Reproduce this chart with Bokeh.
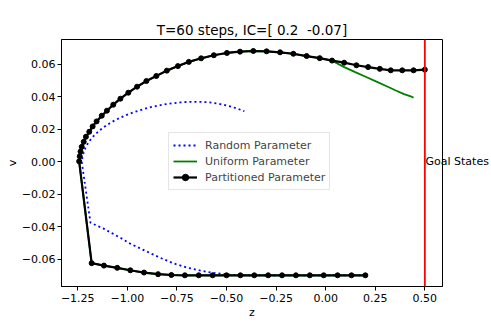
from bokeh.plotting import figure
from bokeh.models import Span, FixedTicker, Range1d, LinearAxis
from bokeh.embed import file_html
from bokeh.resources import INLINE

# ---------------- data ----------------
title_text = "T=60 steps, IC=[ 0.2 \u00a0-0.07]"

z_partitioned = [0.200, 0.130, 0.060, -0.010, -0.080, -0.150, -0.220, -0.290, -0.360, -0.430,
                 -0.500, -0.570, -0.640, -0.710, -0.778, -0.845, -0.916, -0.985, -1.051, -1.118,
                 -1.180,
                 -1.243, -1.240, -1.236, -1.230, -1.220, -1.209, -1.192, -1.175, -1.155, -1.129,
                 -1.103, -1.071, -1.035, -0.995, -0.951, -0.904, -0.854, -0.801, -0.745,
                 -0.690, -0.628, -0.564, -0.498, -0.432, -0.365, -0.298, -0.230, -0.163, -0.096,
                 -0.030, 0.032, 0.093, 0.155, 0.214, 0.273, 0.328, 0.386, 0.443, 0.500]
v_partitioned = [-0.0700, -0.0700, -0.0700, -0.0700, -0.0700, -0.0700, -0.0700, -0.0700, -0.0700, -0.0700,
                 -0.0700, -0.0700, -0.0700, -0.0700, -0.0698, -0.0693, -0.0683, -0.0669, -0.0654, -0.0640,
                 -0.0625,
                 0.0003, 0.0034, 0.0063, 0.0092, 0.0123, 0.0154, 0.0185, 0.0218, 0.0249, 0.0284,
                 0.0315, 0.0352, 0.0389, 0.0426, 0.0463, 0.0498, 0.0529, 0.0562, 0.0590,
                 0.0616, 0.0638, 0.0657, 0.0671, 0.0679, 0.0683, 0.0681, 0.0675, 0.0666, 0.0652,
                 0.0639, 0.0624, 0.0611, 0.0595, 0.0584, 0.0573, 0.0564, 0.0564, 0.0564, 0.0568]

# uniform parameter: identical to the partitioned run until z ~ 0.03, then its own tail
z_uniform_tail = [0.091, 0.149, 0.204, 0.256, 0.305, 0.351, 0.395, 0.436, 0.443]
v_uniform_tail = [0.0585, 0.0553, 0.0523, 0.0494, 0.0467, 0.0441, 0.0417, 0.0400, 0.0395]
z_uniform = z_partitioned[:52] + z_uniform_tail
v_uniform = v_partitioned[:52] + v_uniform_tail

z_random = [0.200, 0.130, 0.060, -0.010, -0.080, -0.150, -0.220, -0.290, -0.360, -0.430,
            -0.499, -0.568, -0.635, -0.700, -0.763, -0.823, -0.880, -0.934, -0.985, -1.033,
            -1.078, -1.120, -1.160, -1.186,
            -1.230, -1.226, -1.220, -1.212, -1.201, -1.188, -1.172, -1.154, -1.134, -1.112,
            -1.088, -1.062, -1.035, -1.006, -0.976, -0.944, -0.911, -0.877, -0.842, -0.806,
            -0.770, -0.733, -0.696, -0.659, -0.622, -0.585, -0.548, -0.512, -0.477, -0.443,
            -0.410]
v_random = [-0.0700, -0.0700, -0.0700, -0.0700, -0.0700, -0.0700, -0.0700, -0.0700, -0.0700, -0.0700,
            -0.0695, -0.0685, -0.0670, -0.0652, -0.0628, -0.0598, -0.0566, -0.0535, -0.0505, -0.0470,
            -0.0440, -0.0412, -0.0390, -0.0375,
            0.0000, 0.0030, 0.0057, 0.0084, 0.0109, 0.0133, 0.0156, 0.0178, 0.0199, 0.0219,
            0.0238, 0.0256, 0.0272, 0.0288, 0.0302, 0.0315, 0.0327, 0.0338, 0.0347, 0.0355,
            0.0361, 0.0366, 0.0369, 0.0370, 0.0369, 0.0366, 0.0360, 0.0351, 0.0340, 0.0327,
            0.0312]

goal_z = 0.5
goal_v = 0.0
goal_label = "Goal States"

x_ticks = [-1.25, -1.0, -0.75, -0.5, -0.25, 0.0, 0.25, 0.5]
x_tick_labels = ["\u22121.25", "\u22121.00", "\u22120.75", "\u22120.50", "\u22120.25", "0.00", "0.25", "0.50"]
y_ticks = [-0.06, -0.04, -0.02, 0.0, 0.02, 0.04, 0.06]
y_tick_labels = ["\u22120.06", "\u22120.04", "\u22120.02", "0.00", "0.02", "0.04", "0.06"]

# ---------------- figure ----------------
FONT = "DejaVu Sans"
p = figure(width=491, height=327, output_backend="svg", toolbar_location=None,
           x_range=Range1d(-1.332, 0.589), y_range=Range1d(-0.0769, 0.0754),
           min_border_left=61, min_border_right=49, min_border_top=39, min_border_bottom=41,
           title=title_text)
p.background_fill_color = "white"
p.border_fill_color = "white"
p.xgrid.visible = False
p.ygrid.visible = False
p.outline_line_color = "black"
p.outline_line_width = 1
p.outline_line_alpha = 1

p.title.text_font = FONT
p.title.text_font_size = "13.5px"
p.title.text_font_style = "normal"
p.title.text_color = "black"
p.title.align = "center"
p.title.standoff = 3

for ax in (p.xaxis[0], p.yaxis[0]):
    ax.major_label_text_font = FONT
    ax.major_label_text_font_size = "11px"
    ax.major_label_text_color = "black"
    ax.axis_label_text_font = FONT
    ax.axis_label_text_font_size = "11px"
    ax.axis_label_text_font_style = "normal"
    ax.axis_label_text_color = "black"
    ax.minor_tick_line_color = None
    ax.major_tick_in = 0
    ax.major_tick_out = 4
    ax.major_tick_line_color = "black"
    ax.axis_line_color = "black"

p.xaxis.major_label_standoff = 3
p.xaxis.axis_label_standoff = 1
p.yaxis.major_label_standoff = 2
p.yaxis.axis_label_standoff = 0

p.xaxis.ticker = FixedTicker(ticks=x_ticks)
p.xaxis.major_label_overrides = dict(zip(x_ticks, x_tick_labels))
p.yaxis.ticker = FixedTicker(ticks=y_ticks)
p.yaxis.major_label_overrides = dict(zip(y_ticks, y_tick_labels))
p.xaxis.axis_label = "z"
p.yaxis.axis_label = "v"

# ---------------- glyphs ----------------
p.line(z_random, v_random, line_color="blue", line_width=1.8, line_dash="2 3",
       legend_label="Random Parameter")
p.line(z_uniform, v_uniform, line_color="green", line_width=1.8,
       legend_label="Uniform Parameter")
p.line(z_partitioned, v_partitioned, line_color="black", line_width=2.2,
       legend_label="Partitioned Parameter")
p.scatter(z_partitioned, v_partitioned, size=5, marker="circle", fill_color="black",
          line_color="black", legend_label="Partitioned Parameter")

p.add_layout(Span(location=goal_z, dimension="height", line_color="red", line_width=1.8))

# "Goal States" text at (goal_z, goal_v): drawn as a right-hand axis label so it is not
# clipped by the frame, pulled back over the goal line with a negative standoff
goal_axis = LinearAxis(ticker=FixedTicker(ticks=[goal_v]),
                       major_label_overrides={goal_v: goal_label},
                       axis_line_color=None, major_tick_line_color=None,
                       minor_tick_line_color=None, major_tick_in=0, major_tick_out=0,
                       major_label_standoff=-17, major_label_text_font=FONT,
                       major_label_text_font_size="11px", major_label_text_color="black")
p.add_layout(goal_axis, "right")

# ---------------- legend ----------------
lg = p.legend[0]
lg.location = (107, 96)
lg.border_line_color = "#cccccc"
lg.border_line_width = 1
lg.background_fill_color = "white"
lg.background_fill_alpha = 0.8
lg.label_text_font = FONT
lg.label_text_font_size = "11px"
lg.glyph_width = 24
lg.glyph_height = 16
lg.label_height = 16
lg.spacing = 0
lg.padding = 4
lg.margin = 0
lg.label_standoff = 8

open("out.html", "w").write(file_html(p, INLINE))
